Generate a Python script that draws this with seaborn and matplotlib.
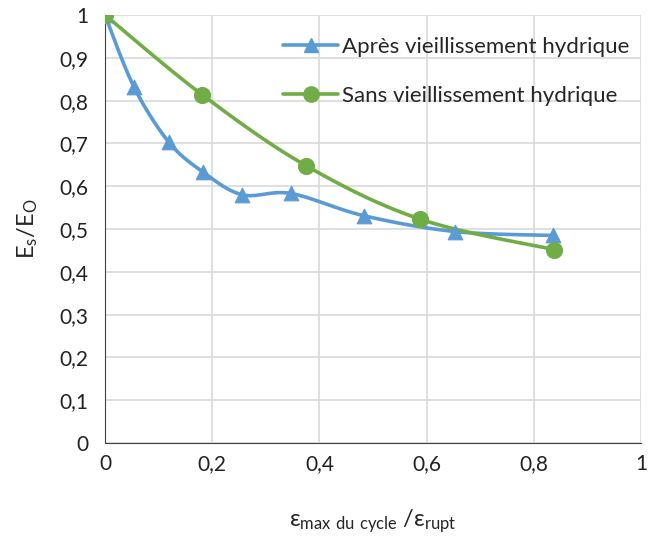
import numpy as np
import pandas as pd
import seaborn as sns
import matplotlib
matplotlib.use("Agg")
from matplotlib import pyplot as plt
from matplotlib.lines import Line2D

# data
x_apres = [0, 0.054, 0.119, 0.183, 0.256, 0.347, 0.483, 0.653, 0.835]
y_apres = [1.0, 0.832, 0.703, 0.633, 0.580, 0.583, 0.531, 0.494, 0.485]
x_sans = [0, 0.181, 0.375, 0.588, 0.837]
y_sans = [1.0, 0.814, 0.648, 0.523, 0.452]
lab_apres = "Après vieillissement hydrique"
lab_sans = "Sans vieillissement hydrique"

blue = "#5B9BD5"
green = "#70AD47"


def smooth(xs, ys, n=30):
    # catmull-rom curve like excel smoothed lines
    p = np.column_stack([xs, ys])
    p = np.vstack([p[0], p, p[-1]])
    out = []
    for i in range(1, len(p) - 2):
        p0, p1, p2, p3 = p[i - 1], p[i], p[i + 1], p[i + 2]
        t = np.linspace(0, 1, n)[:, None]
        c = 0.5 * ((2 * p1) + (-p0 + p2) * t + (2 * p0 - 5 * p1 + 4 * p2 - p3) * t**2
                   + (-p0 + 3 * p1 - 3 * p2 + p3) * t**3)
        out.append(c)
    c = np.vstack(out)
    return c[:, 0], c[:, 1]


sns.set_style("white")
plt.rcParams['font.family'] = ['Lato', 'DejaVu Sans']
plt.rcParams['mathtext.default'] = 'regular'

fig = plt.figure(figsize=(6.53, 5.39), dpi=100)
ax = fig.add_axes([105 / 653, 1 - 443 / 539, (641 - 105) / 653, (443 - 15) / 539])

sx, sy = smooth(x_apres, y_apres)
sns.lineplot(x=sx, y=sy, sort=False, color=blue, lw=2.6, ax=ax, zorder=3)
sns.scatterplot(x=x_apres, y=y_apres, marker="^", s=110, color=blue, edgecolor=blue, ax=ax, zorder=4)
sx, sy = smooth(x_sans, y_sans)
sns.lineplot(x=sx, y=sy, sort=False, color=green, lw=2.6, ax=ax, zorder=3)
sns.scatterplot(x=x_sans, y=y_sans, marker="o", s=130, color=green, edgecolor=green, ax=ax, zorder=4)

ax.set_xlim(0, 1)
ax.set_ylim(0, 1)
ax.set_xticks(np.arange(0, 1.01, 0.2))
ax.set_yticks(np.arange(0, 1.01, 0.1))
fmt = lambda v: "0" if abs(v) < 1e-9 else ("1" if abs(v - 1) < 1e-9 else ("%.1f" % v).replace(".", ","))
ax.set_xticklabels([fmt(v) for v in np.arange(0, 1.01, 0.2)])
ax.set_yticklabels([fmt(v) for v in np.arange(0, 1.01, 0.1)])
ax.grid(True, color="#D9D9D9", lw=1.2)
ax.set_axisbelow(True)
for s in ["top", "right"]:
    ax.spines[s].set_visible(False)
ax.spines["left"].set_color("#404040")
ax.spines["bottom"].set_color("#404040")
ax.tick_params(axis="both", labelsize=15, colors="#404040", labelcolor="#222222", length=5, width=1)
ax.tick_params(axis="x", length=0, pad=8)
ax.tick_params(axis="y", direction="out", pad=7)

ax.set_xlabel("ε$_{max\\ du\\ cycle}$ /ε$_{rupt}$", fontsize=17, labelpad=24)
ax.set_ylabel("E$_s$/E$_O$", fontsize=17, labelpad=14)

handles = [Line2D([], [], color=blue, lw=2.6, marker="^", ms=10),
           Line2D([], [], color=green, lw=2.6, marker="o", ms=11)]
ax.legend(handles, [lab_apres, lab_sans], loc="upper right", bbox_to_anchor=(1.015, 0.995),
          frameon=False, fontsize=16, handlelength=2.5, handletextpad=0.15, labelspacing=1.3)

fig.savefig("out.png", dpi=100)
